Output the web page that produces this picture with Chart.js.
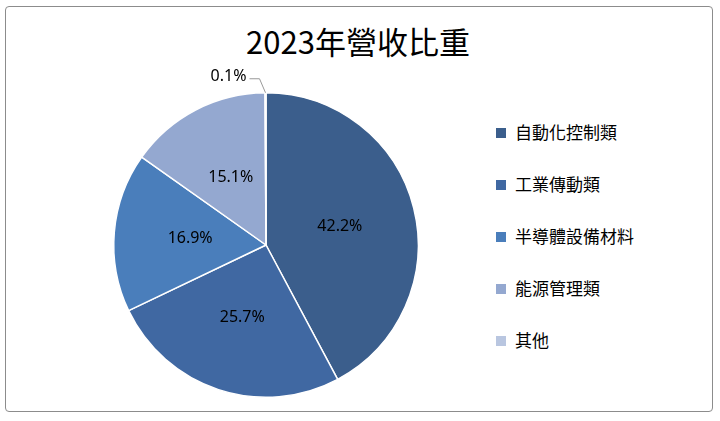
<!DOCTYPE html>
<html><head><meta charset="utf-8">
<script src="https://cdn.jsdelivr.net/npm/chart.js@4"></script>
<style>
body{margin:0;width:720px;height:421px;background:#fff;font-family:"Noto Sans CJK TC","Noto Sans",sans-serif;position:relative;overflow:hidden}
#frame{position:absolute;left:5px;top:6px;width:706px;height:404px;border:1px solid #8c8c8c;border-radius:4px}
#title{position:absolute;left:0;width:716px;top:18px;text-align:center;font-size:31px;color:#000}
#wrap{position:absolute;left:73px;top:52px;width:386px;height:386px}
#legend{position:absolute;left:496px;top:120px;font-size:17px;color:#000}
#legend div{height:52px;line-height:24px}
#legend span{display:inline-block;width:10px;height:10px;margin-right:9px;vertical-align:1px}
</style></head><body>
<div id="frame"></div>
<div id="title">2023年營收比重</div>
<div id="wrap"><canvas id="c"></canvas></div>
<div id="legend"></div>
<script>
const categories = ['自動化控制類', '工業傳動類', '半導體設備材料', '能源管理類', '其他'];
const values = [42.2, 25.7, 16.9, 15.1, 0.1];
const colors = ['#3b5e8c', '#4068a2', '#4a7ebb', '#94a8d0', '#b9c6e0'];

const legend = document.getElementById('legend');
categories.forEach((c, i) => {
    legend.innerHTML += `<div><span style="background:${colors[i]}"></span>${c}</div>`;
});

// draw percentage labels on the slices
const labelPlugin = {
    id: 'labels',
    afterDatasetsDraw(chart) {
        const ctx = chart.ctx;
        ctx.save();
        ctx.font = '16px "Noto Sans","DejaVu Sans",sans-serif';
        ctx.fillStyle = '#000';
        ctx.textAlign = 'center';
        ctx.textBaseline = 'middle';
        chart.getDatasetMeta(0).data.forEach((arc, i) => {
            const mid = (arc.startAngle + arc.endAngle) / 2;
            const txt = values[i].toFixed(1) + '%';
            if (values[i] < 1) {
                const x0 = arc.x + Math.cos(mid) * arc.outerRadius;
                const y0 = arc.y + Math.sin(mid) * arc.outerRadius;
                ctx.strokeStyle = '#999';
                ctx.lineWidth = 1;
                ctx.beginPath();
                ctx.moveTo(x0, y0);
                ctx.lineTo(x0 - 6, y0 - 14);
                ctx.lineTo(x0 - 16, y0 - 14);
                ctx.stroke();
                ctx.fillText(txt, x0 - 37, y0 - 16);
            } else {
                const r = arc.outerRadius * 0.5;
                ctx.fillText(txt, arc.x + Math.cos(mid) * r, arc.y + Math.sin(mid) * r);
            }
        });
        ctx.restore();
    }
};

new Chart(document.getElementById('c'), {
    type: 'pie',
    data: {
        labels: categories,
        datasets: [{ data: values, backgroundColor: colors, borderColor: '#fff', borderWidth: 1.5 }]
    },
    options: {
        responsive: true,
        maintainAspectRatio: false,
        animation: false,
        layout: { padding: 40 },
        plugins: { legend: { display: false }, tooltip: { enabled: false } }
    },
    plugins: [labelPlugin]
});
</script>
</body></html>
